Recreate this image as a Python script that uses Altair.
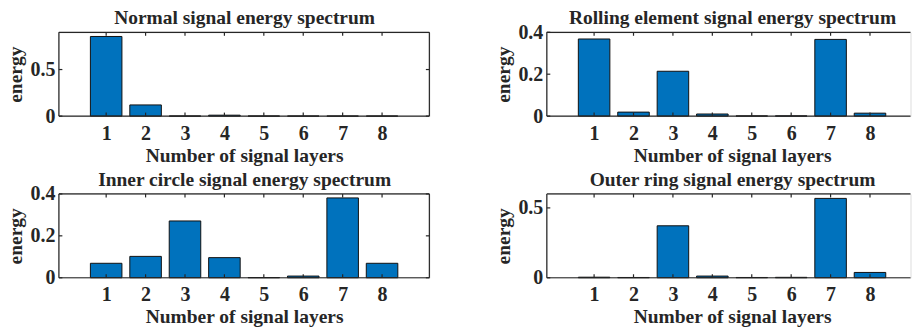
import altair as alt
import pandas as pd

# ---- data ----
layers = [1, 2, 3, 4, 5, 6, 7, 8]
normal = [0.855, 0.12, 0.001, 0.01, 0.001, 0.0005, 0.0005, 0.0005]
rolling = [0.368, 0.019, 0.214, 0.01, 0.001, 0.001, 0.366, 0.014]
inner = [0.069, 0.102, 0.271, 0.096, 0.001, 0.008, 0.381, 0.069]
outer = [0.004, 0.002, 0.372, 0.012, 0.002, 0.003, 0.568, 0.038]

titles = [
    "Normal signal energy spectrum",
    "Rolling element signal energy spectrum",
    "Inner circle signal energy spectrum",
    "Outer ring signal energy spectrum",
]
ymaxes = [0.9, 0.4, 0.4, 0.6]
yticks = [[0, 0.5], [0, 0.2, 0.4], [0, 0.2, 0.4], [0, 0.5]]
x_title = "Number of signal layers"
y_title = "energy"

# ---- style ----
FONT = "Liberation Serif"
TXT = "#262626"
BAR = "#0072BD"
W = 371.3
H = 84
UNIT = W / 9.4
W_R = 364.5
TICK = 3.5
LW = 1.2
TITLE_FS = 19.5
LABEL_FS = 20
XMIN = -0.2


def panel(title, values, ymax, yvals, right, title_pad):
    width = W_R if right else W
    xmax = XMIN + width / UNIT
    df = pd.DataFrame({"layer": layers, "energy": values})
    dy = pd.DataFrame({"v": yvals})
    one = pd.DataFrame({"k": [0]})
    xs = alt.Scale(domain=[XMIN, xmax], nice=False, zero=False)
    ys = alt.Scale(domain=[0, ymax], nice=False)
    base = alt.Chart(df).transform_calculate(
        x0="datum.layer - 0.4", x1="datum.layer + 0.4", base="0"
    )
    txt = dict(titleFont=FONT, titleFontWeight="bold", titleFontSize=TITLE_FS, titleColor=TXT)
    lab = dict(labelFont=FONT, labelFontWeight="bold", labelFontSize=LABEL_FS, labelColor=TXT)
    bars = base.mark_bar(fill=BAR, stroke="#111111", strokeWidth=1).encode(
        x=alt.X(
            "x0:Q",
            scale=xs,
            axis=alt.Axis(
                orient="bottom", values=layers, format="d", ticks=False, tickSize=0,
                domain=False, grid=False, labelPadding=7, title=x_title, titlePadding=3,
                titleX=W / 2, labelFlush=False, **lab, **txt,
            ),
        ),
        x2="x1:Q",
        y=alt.Y(
            "energy:Q",
            scale=ys,
            axis=alt.Axis(
                orient="left", values=yvals, format=".1~f", ticks=False, tickSize=0,
                domain=False, grid=False, labelPadding=4, title=y_title, titlePadding=4,
                labelFlush=False, **lab, **txt,
            ),
        ),
        y2="base:Q",
    )
    # panel title carried by an empty top axis
    head = base.mark_point(opacity=0).encode(
        x=alt.X("layer:Q", scale=xs, axis=alt.Axis(
            orient="top", values=layers, labels=False, ticks=False, domain=False, grid=False,
            title=title, titlePadding=title_pad, titleBaseline="alphabetic",
            titleX=W / 2, **txt)),
        y=alt.Y("energy:Q", scale=ys, axis=None),
    )
    rule = dict(color=TXT, strokeWidth=LW)
    frame = alt.Chart(one)
    # MATLAB-style box; the right panels are cut by the page edge
    box = [
        frame.mark_rule(**rule).encode(
            x=alt.X(datum=XMIN, scale=xs, axis=None), x2=alt.X2(datum=xmax),
            y=alt.Y(datum=ymax, scale=ys, axis=None)),
        frame.mark_rule(**rule).encode(
            x=alt.X(datum=XMIN, scale=xs, axis=None), x2=alt.X2(datum=xmax),
            y=alt.Y(datum=0, scale=ys, axis=None)),
        frame.mark_rule(**rule).encode(
            x=alt.X(datum=XMIN, scale=xs, axis=None),
            y=alt.Y(datum=0, scale=ys, axis=None), y2=alt.Y2(datum=ymax)),
    ]
    if not right:
        box.append(frame.mark_rule(**rule).encode(
            x=alt.X(datum=xmax, scale=xs, axis=None),
            y=alt.Y(datum=0, scale=ys, axis=None), y2=alt.Y2(datum=ymax)))
    # inward ticks
    xt = alt.Chart(df)
    yt = alt.Chart(dy)
    ticks = [
        xt.mark_rule(**rule).encode(
            x=alt.X("layer:Q", scale=xs, axis=None),
            y=alt.Y(datum=0, scale=ys, axis=None), y2=alt.value(H - TICK)),
        xt.mark_rule(**rule).encode(
            x=alt.X("layer:Q", scale=xs, axis=None),
            y=alt.Y(datum=ymax, scale=ys, axis=None), y2=alt.value(TICK)),
        yt.mark_rule(**rule).encode(
            y=alt.Y("v:Q", scale=ys, axis=None),
            x=alt.X(datum=XMIN, scale=xs, axis=None), x2=alt.value(TICK)),
    ]
    if not right:
        ticks.append(yt.mark_rule(**rule).encode(
            y=alt.Y("v:Q", scale=ys, axis=None),
            x=alt.X(datum=xmax, scale=xs, axis=None), x2=alt.value(width - TICK)))
    return (
        alt.layer(bars, head, *box, *ticks)
        .resolve_axis(x="independent", y="independent")
        .properties(width=width, height=H)
    )


p1 = panel(titles[0], normal, ymaxes[0], yticks[0], False, 9)
p2 = panel(titles[1], rolling, ymaxes[1], yticks[1], True, 9)
p3 = panel(titles[2], inner, ymaxes[2], yticks[2], False, 8)
p4 = panel(titles[3], outer, ymaxes[3], yticks[3], True, 8)

left = alt.vconcat(p1, p3, spacing=78, bounds="flush")
right = alt.vconcat(p2, p4, spacing=78, bounds="flush")
chart = (
    alt.hconcat(left, right, spacing=62)
    .properties(padding={"left": 5, "top": 6, "right": 0, "bottom": 0})
    .configure_view(stroke=None)
    .configure(background="white")
)

chart.save("out.html", embed_options={"renderer": "svg", "actions": False})
